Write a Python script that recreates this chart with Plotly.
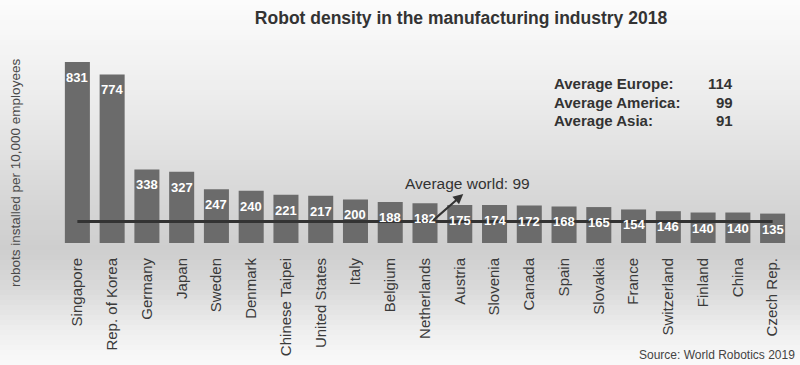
import plotly.graph_objects as go

countries = ["Singapore", "Rep. of Korea", "Germany", "Japan", "Sweden", "Denmark",
             "Chinese Taipei", "United States", "Italy", "Belgium", "Netherlands",
             "Austria", "Slovenia", "Canada", "Spain", "Slovakia", "France",
             "Switzerland", "Finland", "China", "Czech Rep."]
density = [831, 774, 338, 327, 247, 240, 221, 217, 200, 188, 182, 175, 174, 172,
           168, 165, 154, 146, 140, 140, 135]
world_avg = 99
region_names = ["Average Europe:", "Average America:", "Average Asia:"]
region_values = [114, 99, 91]

W, H = 800, 365
ML, MR, MT, MB = 60, 10, 47, 122
PW = W - ML - MR
PH = H - MT - MB


def px_x(px):
    return (px - ML) / PW


def px_y(py):
    return (H - MB - py) / PH


fig = go.Figure()

# gradient background bands (style only)
stops = [(0, 252), (50, 244), (120, 232), (200, 214), (250, 206), (290, 218), (330, 238), (365, 250)]


def gray_at(y):
    for (y0, g0), (y1, g1) in zip(stops[:-1], stops[1:]):
        if y0 <= y <= y1:
            return g0 + (g1 - g0) * (y - y0) / (y1 - y0)
    return stops[-1][1]


shapes = []
step = 5
for y in range(0, H, step):
    g = int(round(gray_at(y + step / 2)))
    shapes.append(dict(type="rect", xref="paper", yref="paper",
                       x0=px_x(0), x1=px_x(W), y0=px_y(y + step), y1=px_y(y),
                       fillcolor=f"rgb({g},{g},{g})", line=dict(width=0), layer="below"))

fig.add_trace(go.Bar(x=countries, y=density, marker=dict(color="#6b6b6b", line=dict(width=0)),
                     hoverinfo="x+y", showlegend=False))

fig.add_trace(go.Scatter(x=[countries[0], countries[-1]], y=[world_avg, world_avg],
                         mode="lines", line=dict(color="#333333", width=3),
                         showlegend=False, hoverinfo="skip"))

annotations = []
for c, v in zip(countries, density):
    annotations.append(dict(x=c, y=v, xref="x", yref="y", text=f"<b>{v}</b>",
                            showarrow=False, yanchor="top", yshift=-6,
                            font=dict(family="Liberation Sans, Arial", size=13, color="white")))

# arrow to average world label
annotations.append(dict(x=11.1, y=225, xref="x", yref="y", ax=10.2, ay=world_avg,
                        axref="x", ayref="y", text="", showarrow=True, arrowhead=2,
                        arrowsize=1, arrowwidth=2, arrowcolor="#333333"))
annotations.append(dict(x=px_x(403), y=px_y(183), xref="paper", yref="paper",
                        text=f"Average world: {world_avg}", showarrow=False,
                        xanchor="left", yanchor="middle",
                        font=dict(family="Liberation Sans, Arial", size=15.5, color="#333333")))

region_ys = [83, 102, 120]
for name, val, py in zip(region_names, region_values, region_ys):
    annotations.append(dict(x=px_x(552), y=px_y(py), xref="paper", yref="paper",
                            text=f"<b>{name}</b>", showarrow=False, xanchor="left",
                            yanchor="middle",
                            font=dict(family="Liberation Sans, Arial", size=15, color="#333333")))
    annotations.append(dict(x=px_x(735), y=px_y(py), xref="paper", yref="paper",
                            text=f"<b>{val}</b>", showarrow=False, xanchor="right",
                            yanchor="middle",
                            font=dict(family="Liberation Sans, Arial", size=15, color="#333333")))

annotations.append(dict(x=px_x(15), y=px_y(173), xref="paper", yref="paper",
                        text="robots installed per 10,000 employees", showarrow=False,
                        textangle=-90, xanchor="center", yanchor="middle",
                        font=dict(family="Liberation Sans, Arial", size=13.5, color="#4a4a4a")))

annotations.append(dict(x=px_x(797), y=px_y(355), xref="paper", yref="paper",
                        text="Source: World Robotics 2019", showarrow=False,
                        xanchor="right", yanchor="middle",
                        font=dict(family="Liberation Sans, Arial", size=12, color="#444444")))

fig.update_layout(
    width=W, height=H,
    margin=dict(l=ML, r=MR, t=MT, b=MB),
    paper_bgcolor="white", plot_bgcolor="rgba(0,0,0,0)",
    bargap=0.28,
    title=dict(text="<b>Robot density in the manufacturing industry 2018</b>",
               x=461 / W, xanchor="center", xref="container",
               y=1 - 18 / H, yanchor="middle", yref="container",
               font=dict(family="Liberation Sans, Arial", size=17.5, color="#333333")),
    shapes=shapes,
    annotations=annotations,
    xaxis=dict(tickangle=-90, showgrid=False, zeroline=False, showline=False,
               ticks="outside", ticklen=8, tickcolor="rgba(0,0,0,0)",
               tickfont=dict(family="Liberation Sans, Arial", size=15, color="#3a3a3a"),
               automargin=False, range=[-0.5, len(countries) - 0.5]),
    yaxis=dict(range=[0, 900], showgrid=False, zeroline=False, showline=False,
               showticklabels=False, automargin=False),
)

fig.write_html("out.html")
